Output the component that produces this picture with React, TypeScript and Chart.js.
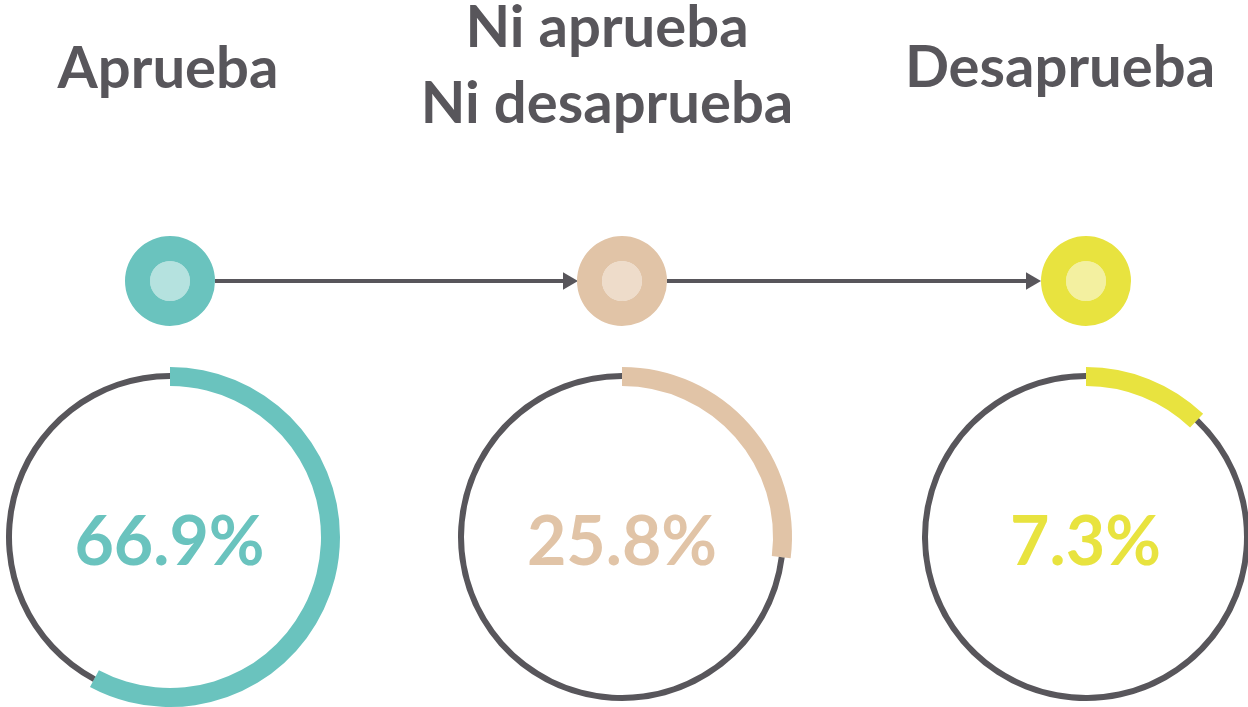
import React, { useEffect, useRef } from "react";
import { Chart, registerables } from "chart.js";

Chart.register(...registerables);

// ---------- data ----------
const categories = ["Aprueba", "Ni aprueba / Ni desaprueba", "Desaprueba"];
const titleLines = [["Aprueba"], ["Ni aprueba", "Ni desaprueba"], ["Desaprueba"]];
const percentLabels = ["66.9%", "25.8%", "7.3%"];
// share of the full circle covered by each coloured arc, as drawn in the picture
const arcShares = [57.8, 27.0, 12.1];
const mainColors = ["#6AC3BE", "#E1C4A7", "#E8E33F"];
const lightColors = ["#B5E2DF", "#EEDCCA", "#F3F0A0"];
const DARK = "#58565B";

// ---------- layout ----------
const COL_CENTERS = [169.5, 622, 1085.5];
const TITLE_CENTERS = [168, 607, 1060];
const TITLE_TOPS = [28, -13, 27];
const DOT_Y = 281;
const RING_Y = 537;
const RING_BOX = 360;
const FONT = "Lato, 'Open Sans', sans-serif";

type AnyConfig = any;

function ChartCanvas({ config, width, height, style }: { config: AnyConfig; width: number; height: number; style: React.CSSProperties }) {
  const ref = useRef<HTMLCanvasElement | null>(null);
  useEffect(() => {
    if (!ref.current) return;
    const chart = new Chart(ref.current, config);
    return () => chart.destroy();
  }, []);
  return <canvas ref={ref} width={width} height={height} style={{ position: "absolute", width, height, ...style }} />;
}

const baseOptions = {
  responsive: false,
  animation: false as const,
  events: [] as any[],
  layout: { padding: 0, autoPadding: false },
  plugins: { legend: { display: false }, tooltip: { enabled: false }, title: { display: false } },
};

function darkRingConfig(i: number) {
  return {
    type: "doughnut",
    data: {
      labels: [categories[i], "resto"],
      datasets: [
        {
          data: [arcShares[i], 100 - arcShares[i]],
          backgroundColor: [DARK, DARK],
          borderWidth: 0,
        },
      ],
    },
    options: { ...baseOptions, radius: 164, cutout: `${(158 / 164) * 100}%` },
  };
}

function colorArcConfig(i: number) {
  return {
    type: "doughnut",
    data: {
      labels: [categories[i], "resto"],
      datasets: [
        {
          data: [arcShares[i], 100 - arcShares[i]],
          backgroundColor: [mainColors[i], "rgba(0,0,0,0)"],
          borderWidth: 0,
        },
      ],
    },
    options: { ...baseOptions, radius: 170, cutout: `${(151 / 170) * 100}%` },
  };
}

function dotConfig(i: number) {
  return {
    type: "doughnut",
    data: {
      labels: [categories[i]],
      datasets: [
        { data: [100], backgroundColor: [mainColors[i]], borderWidth: 0, weight: 25 },
        { data: [100], backgroundColor: [lightColors[i]], borderWidth: 0, weight: 20 },
      ],
    },
    options: { ...baseOptions, radius: 45, cutout: 0 },
  };
}

function arrowConfig() {
  return {
    type: "line",
    data: {
      datasets: [
        {
          data: [
            { x: 0, y: 0 },
            { x: 1, y: 0 },
          ],
          borderColor: DARK,
          borderWidth: 4,
          pointRadius: [0, 10],
          pointStyle: "triangle",
          pointRotation: 90,
          pointBackgroundColor: DARK,
          pointBorderWidth: 0,
          clip: false,
        },
      ],
    },
    options: {
      ...baseOptions,
      layout: { autoPadding: false, padding: { left: 0, right: 10, top: 0, bottom: 0 } },
      scales: {
        x: { type: "linear", min: 0, max: 1, display: false },
        y: { type: "linear", min: -1, max: 1, display: false },
      },
    },
  };
}

export default function App() {
  const textColor = DARK;
  return (
    <div
      style={{
        position: "fixed",
        left: 0,
        top: 0,
        width: 1248,
        height: 707,
        background: "#FFFFFF",
        overflow: "hidden",
        fontFamily: FONT,
      }}
    >
      {titleLines.map((lines, i) => (
        <div
          key={"t" + i}
          style={{
            position: "absolute",
            left: TITLE_CENTERS[i] - 300,
            top: TITLE_TOPS[i],
            width: 600,
            textAlign: "center",
            fontWeight: 700,
            fontSize: 58,
            lineHeight: "76px",
            color: textColor,
            whiteSpace: "nowrap",
          }}
        >
          {lines.map((l, k) => (
            <div key={k}>{l}</div>
          ))}
        </div>
      ))}

      {[0, 1].map((i) => {
        const left = COL_CENTERS[i] + 45;
        const right = COL_CENTERS[i + 1] - 45;
        return (
          <ChartCanvas
            key={"a" + i}
            config={arrowConfig()}
            width={Math.round(right - left)}
            height={40}
            style={{ left, top: DOT_Y - 20 }}
          />
        );
      })}

      {arcShares.map((_, i) => (
        <ChartCanvas
          key={"d" + i}
          config={dotConfig(i)}
          width={100}
          height={100}
          style={{ left: COL_CENTERS[i] - 50, top: DOT_Y - 50 }}
        />
      ))}

      {arcShares.map((_, i) => (
        <ChartCanvas
          key={"r" + i}
          config={darkRingConfig(i)}
          width={RING_BOX}
          height={RING_BOX}
          style={{ left: COL_CENTERS[i] - RING_BOX / 2, top: RING_Y - RING_BOX / 2 }}
        />
      ))}
      {arcShares.map((_, i) => (
        <ChartCanvas
          key={"c" + i}
          config={colorArcConfig(i)}
          width={RING_BOX}
          height={RING_BOX}
          style={{ left: COL_CENTERS[i] - RING_BOX / 2, top: RING_Y - RING_BOX / 2 }}
        />
      ))}

      {percentLabels.map((lab, i) => (
        <div
          key={"p" + i}
          style={{
            position: "absolute",
            left: COL_CENTERS[i] - 150,
            top: 505,
            width: 300,
            textAlign: "center",
            fontWeight: 700,
            fontSize: 68,
            lineHeight: "68px",
            color: mainColors[i],
            whiteSpace: "nowrap",
          }}
        >
          {lab}
        </div>
      ))}
    </div>
  );
}
